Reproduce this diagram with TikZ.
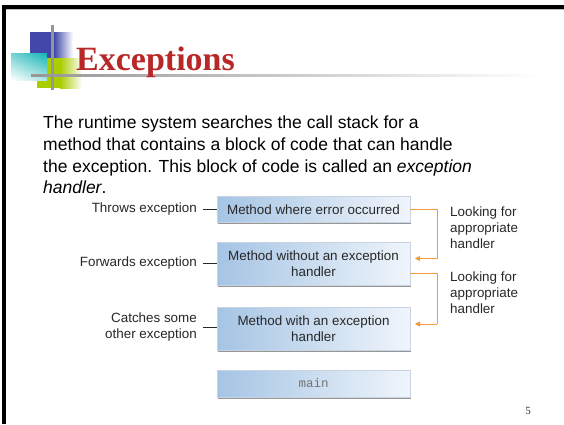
\documentclass[tikz,border=0pt]{standalone}
\usepackage{fontspec}
\setmainfont{Liberation Sans}
\newfontfamily\titlefont{Liberation Serif}
\newfontfamily\codefont{Liberation Mono}
\usetikzlibrary{arrows.meta,shadings}
\definecolor{titlered}{RGB}{185,40,40}
\definecolor{logoblue}{RGB}{65,72,170}
\definecolor{logocyan}{RGB}{20,180,180}
\definecolor{logogreen}{RGB}{170,205,0}
\definecolor{logogrey}{RGB}{150,150,150}
\definecolor{boxleft}{RGB}{165,196,228}
\definecolor{boxright}{RGB}{240,245,251}
\definecolor{boxedge}{RGB}{200,212,226}
\definecolor{boxshadow}{RGB}{150,150,150}
\definecolor{orangeline}{RGB}{242,155,55}
\definecolor{txtgrey}{RGB}{40,40,40}
\tikzset{
  para/.style={anchor=base west, inner sep=0pt, font=\fontsize{17.5}{21}\selectfont, text=black},
  stackbox/.style={draw=boxedge, line width=0.5pt, left color=boxleft, right color=boxright, minimum width=193pt, inner sep=0pt, align=center, font=\fontsize{13.4}{15.5}\selectfont, text=txtgrey},
  sidelabel/.style={anchor=east, inner sep=0pt, align=right, font=\fontsize{13.4}{16.5}\selectfont, text=txtgrey},
  looklabel/.style={anchor=north west, inner sep=0pt, align=left, font=\fontsize{13.4}{16}\selectfont, text=txtgrey},
  tick/.style={draw=txtgrey, line width=0.7pt},
  search/.style={draw=orangeline, line width=0.8pt},
  searcharrow/.style={search, -{Triangle[length=5pt,width=5pt]}},
}
\begin{document}
\begin{tikzpicture}[x=1pt,y=-1pt]
\useasboundingbox (0,0) rectangle (564,424);
\fill[white] (0,0) rectangle (564,424);
% slide border
\fill[black] (2,5) rectangle (564,8.5);
\fill[black!25] (5,8.5) rectangle (564,9.5);
\fill[black] (2,5) rectangle (5.5,424);
% logo
\fill[logoblue] (30,32) rectangle (54,62);
\shade[left color=logoblue, right color=white] (54,32) rectangle (73,62);
\fill[logogreen] (37,58) rectangle (60,88);
\shade[left color=logogreen, right color=white] (60,58) rectangle (82,88);
\shade[upper right=logocyan, upper left=logocyan!60, lower left=white, lower right=logocyan!35] (11,53) rectangle (47,80);
\shade[left color=logogrey, right color=white] (31,74) rectangle (540,76.5);
\fill[logogrey] (51,25) rectangle (53.5,90);
% title
\node[anchor=base west, inner sep=0pt, font=\titlefont\bfseries\fontsize{34}{40}\selectfont, text=titlered] (title) at (76,70) {Exceptions};
% paragraph
\node[para] (p1) at (43,128) {The runtime system searches the call stack for a};
\node[para] (p2) at (43,150) {method that contains a block of code that can handle};
\node[para] (p3) at (43,172) {the exception. This block of code is called an \textit{exception}};
\node[para] (p4) at (43,193.5) {\textit{handler}.};
% stack boxes (shadows)
\fill[boxshadow] (218,198) rectangle (411,224);
\fill[boxshadow] (218,243) rectangle (411,287);
\fill[boxshadow] (218,308) rectangle (411,352);
\fill[boxshadow] (218,371) rectangle (411,399);
\node[stackbox, minimum height=26pt] (b1) at (313.5,209.5) {Method where error occurred};
\node[stackbox, minimum height=43pt] (b2) at (313.5,263.5) {Method without an exception\\handler};
\node[stackbox, minimum height=43pt] (b3) at (313.5,328.5) {Method with an exception\\handler};
\node[stackbox, minimum height=27pt, font=\codefont\fontsize{12.5}{14}\selectfont, text=black!55] (b4) at (313.5,383.5) {main};
% side labels
\node[sidelabel] (l1) at (197,209) {Throws exception};
\node[sidelabel] (l2) at (197,263) {Forwards exception};
\node[sidelabel] (l3) at (197,327) {Catches some\\other exception};
\draw[tick] (l1.east) ++(6,0) coordinate (t1) -- (t1 -| b1.west);
\draw[tick] (l2.east) ++(6,0) coordinate (t2) -- (t2 -| b2.west);
\draw[tick] (l3.east) ++(6,0) coordinate (t3) -- (t3 -| b3.west);
% search arrows
\coordinate (s1) at (437,209);
\coordinate (s2) at (437,273);
\draw[search] (b1.east |- s1) -- (s1) -- (437,258.5);
\draw[searcharrow] (437,258.5) -- (415,258.5);
\draw[search] (b2.east |- s2) -- (s2) -- (437,324);
\draw[searcharrow] (437,324) -- (415,324);
\node[looklabel] (k1) at (450,207) {Looking for\\appropriate\\handler};
\node[looklabel] (k2) at (450,272) {Looking for\\appropriate\\handler};
% page number
\node[inner sep=0pt, font=\titlefont\fontsize{11}{12}\selectfont, text=black!80] (pg) at (528,411) {5};
\end{tikzpicture}
\end{document}
